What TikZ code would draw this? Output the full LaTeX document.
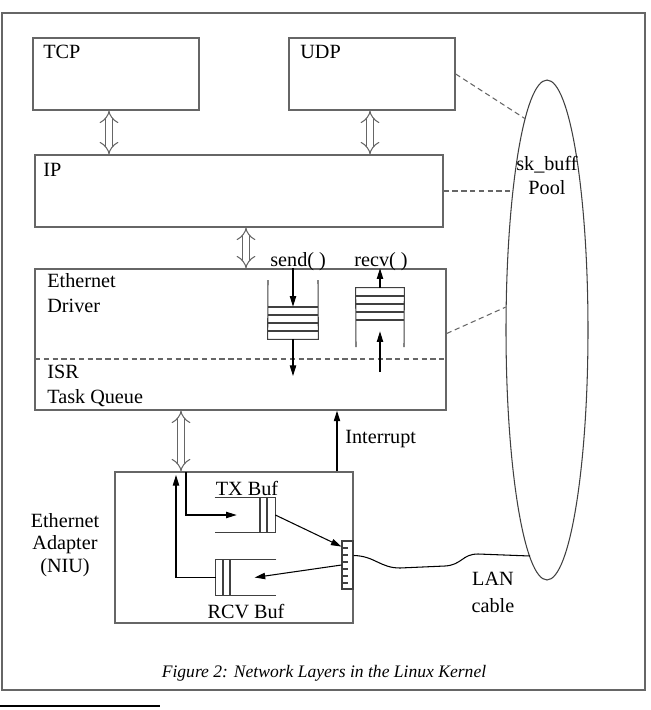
\documentclass[tikz,border=0pt]{standalone}
\usepackage{fontspec}
\setmainfont{Liberation Serif}
\usetikzlibrary{arrows.meta,fit,calc,shapes.geometric}

\begin{document}
\begin{tikzpicture}[x=0.02cm,y=-0.02cm,
  every node/.style={inner sep=0pt,font=\fontsize{11.5}{14.2}\selectfont},
  box/.style={draw=black!60,line width=0.8pt},
  lbl/.style={anchor=base west,align=left},
  dbl/.style={draw=black!60,double=white,double distance=3.2pt,line width=0.6pt,{Implies}-{Implies}},
  arr/.style={-{Triangle[length=6pt,width=3.6pt]},line width=0.6pt},
  pooldash/.style={draw=black!60,line width=0.6pt,dash pattern=on 3pt off 2pt},
  stack/.style={draw=black!75,line width=0.6pt}]
\useasboundingbox (0,0) rectangle (650,710);
% Boxes
\node[box,fit={(2,13) (645,690)}] (frame) {};
\node[box,fit={(33,38) (199,110)}] (tcp) {};
\node[box,fit={(289,38) (455,110)}] (udp) {};
\node[box,fit={(35,155) (443,227)}] (ip) {};
\node[box,fit={(35,269) (446,410)}] (eth) {};
\node[box,fit={(115,472) (353,623)}] (nic) {};
\node[draw=black!75,line width=0.6pt,ellipse,minimum width=1.64cm,minimum height=10cm] (pool) at (547,330) {};
\draw[pooldash] (35,359) -- (446,359);
% Labels
\node[lbl] (tcptxt) at (43,58) {TCP};
\node[lbl] (udptxt) at (300,58) {UDP};
\node[lbl] (iptxt) at (43,176) {IP};
\node[lbl] (drvtxt) at (47,312) {Ethernet\\Driver};
\node[lbl] (isrtxt) at (47,403) {ISR\\Task Queue};
\node[anchor=base,align=center,font=\fontsize{11.5}{13.6}\selectfont] (pooltxt) at (547,194) {sk\_buff\\Pool};
\node[anchor=base west] (sendtxt) at (270,266) {send( )};
\node[anchor=base west] (recvtxt) at (354,266) {recv( )};
\node[lbl] (inttxt) at (345,443) {Interrupt};
\node[anchor=base,align=center,font=\fontsize{11.5}{12.8}\selectfont] (niutxt) at (65,572) {Ethernet\\Adapter\\(NIU)};
\node[anchor=base] (txtxt) at (247,495) {TX Buf};
\node[anchor=base] (rcvtxt) at (246,618) {RCV Buf};
\node[anchor=base,align=center,font=\fontsize{11.5}{15.3}\selectfont] (lantxt) at (493,612) {LAN\\cable};
\node[anchor=base,font=\fontsize{10}{12}\selectfont\itshape] (caption) at (324,677) {Figure 2: Network Layers in the Linux Kernel};
% Layer arrows
\coordinate (tcpx) at (109,0);
\coordinate (udpx) at (370,0);
\coordinate (ipx) at (246,0);
\coordinate (dmax) at (181,0);
\coordinate (irqx) at (337,0);
\draw[dbl] (tcp.south -| tcpx) -- (ip.north -| tcpx);
\draw[dbl] (udp.south -| udpx) -- (ip.north -| udpx);
\draw[dbl] (ip.south -| ipx) -- (eth.north -| ipx);
\draw[dbl] (eth.south -| dmax) -- (nic.north -| dmax);
\draw[arr] (nic.north -| irqx) -- (eth.south -| irqx);
% Pool links
\coordinate (ippool) at (513,0);
\draw[pooldash] (udp.east) -- (pool.96);
\draw[pooldash] (ip.east) -- (ip.east -| ippool);
\draw[pooldash] ($(eth.east)+(0,-6)$) -- (pool.151);
% Driver queues
\node[fit={(268,307) (318,339)}] (sendq) {};
\draw[stack] (268,280) -- (sendq.south west) -- (sendq.south east) -- (318,280);
\foreach \y in {307,315,323,331} \draw[stack] (268,\y) -- (318,\y);
\node[fit={(356,288) (404,320)}] (recvq) {};
\draw[stack] (356,347) -- (recvq.north west) -- (recvq.north east) -- (404,347);
\foreach \y in {296,304,312,320} \draw[stack] (356,\y) -- (404,\y);
\coordinate (sendout) at (293,376);
\coordinate (recvin) at (380,372);
\draw[arr] (sendq.north |- eth.north) -- (sendq.north);
\draw[arr] (sendq.south) -- (sendout);
\draw[arr] (recvq.north) -- (recvq.north |- eth.north);
\draw[arr] (recvin) -- ($(recvq.south)+(0,11)$);
% Adapter buffers
\node[fit={(215,498) (275,532)}] (txbuf) {};
\draw[stack] (txbuf.north west) -- (txbuf.north east) -- (txbuf.south east) -- (txbuf.south west);
\draw[stack] (260,498) -- (260,532) (267,498) -- (267,532);
\node[fit={(216,560) (276,595)}] (rcvbuf) {};
\draw[stack] (rcvbuf.north east) -- (rcvbuf.north west) -- (rcvbuf.south west) -- (rcvbuf.south east);
\draw[stack] (223,560) -- (223,595) (230,560) -- (230,595);
\node[draw=black!75,line width=0.6pt,fit={(342,541) (353,589)}] (conn) {};
\foreach \y in {548,555,...,584} \draw[stack] (342,\y) -- (348,\y);
\coordinate (txin) at (186,472);
\coordinate (rcvout) at (176,475);
\draw[arr] (txin) |- ($(txbuf.west)+(22,0)$);
\draw[arr] (txbuf.east) -- ($(conn.north west)!0.125!(conn.south west)$);
\draw[arr] (conn.west) -- ($(rcvbuf.west)+(39,0)$);
\draw[arr] (rcvbuf.west) -| (rcvout);
% Cable
\coordinate (lanend) at (530,556);
\draw[line width=0.6pt] ($(conn.north east)+(0,15)$) .. controls (375,556) and (380,568) .. (400,568) -- (445,566) .. controls (462,565) and (462,554) .. (478,554) -- (lanend);
\draw[line width=1.4pt] (0,706) -- (160,706);
\end{tikzpicture}
\end{document}
